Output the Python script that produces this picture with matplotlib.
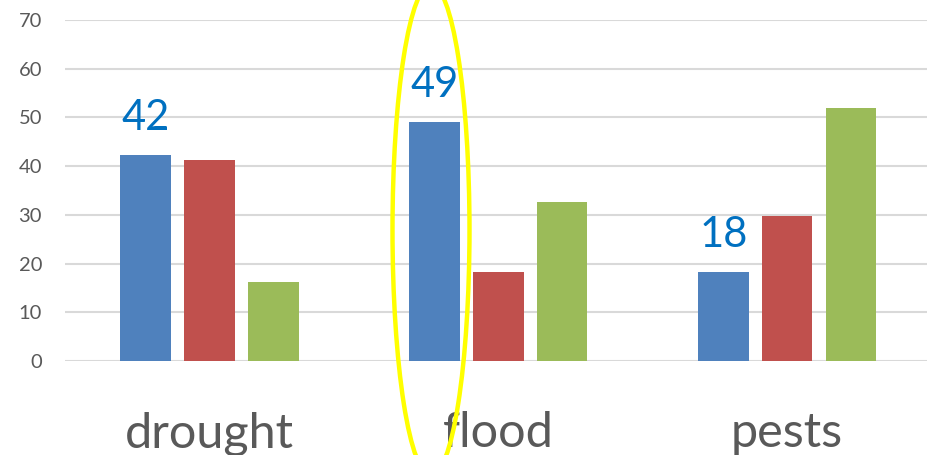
import matplotlib.pyplot as plt
import numpy as np
from matplotlib.patches import Ellipse

plt.rcParams['font.family'] = ['Lato', 'DejaVu Sans']

categories = ["drought", "flood", "pests"]
series_a = [42.3, 49.0, 18.2]
series_b = [41.2, 18.3, 29.8]
series_c = [16.3, 32.7, 51.9]
labels_a = ["42", "49", "18"]

colors = ["#4F81BD", "#C0504D", "#9BBB59"]

fig = plt.figure(figsize=(9.27, 4.55), dpi=100)
ax = fig.add_axes([65 / 927, 94 / 455, 866.5 / 927, 341 / 455])

x = np.arange(len(categories))
width = 0.175
pitch = 0.221

for i, (vals, c) in enumerate(zip([series_a, series_b, series_c], colors)):
    ax.bar(x + (i - 1) * pitch, vals, width, color=c, zorder=3)

# data labels on first series
for xi, v, lab in zip(x, series_a, labels_a):
    ax.annotate(lab, (xi - pitch, v), xytext=(0, 18), textcoords="offset points",
                ha="center", va="baseline", fontsize=30, color="#0070C0")

ax.set_xlim(-0.5, 2.5)
ax.set_ylim(0, 70)
ax.set_yticks(range(0, 71, 10))
ax.grid(axis="y", color="#D9D9D9", linewidth=1.5, zorder=0)
for s in ax.spines.values():
    s.set_visible(False)
ax.tick_params(axis="y", length=0, pad=16.5, labelsize=14.5, labelcolor="#595959")
ax.tick_params(axis="x", length=0, pad=36, labelsize=35, labelcolor="#595959")
ax.set_xticks(x)
ax.set_xticklabels(categories)

# yellow highlight ellipse
ell = Ellipse((431 / 927, 1 - 230 / 455), 77 / 927, 491 / 455,
              transform=fig.transFigure, fill=False, edgecolor="#FFFF00",
              linewidth=3.2, zorder=10)
fig.patches.append(ell)

plt.savefig("out.png", dpi=100)
